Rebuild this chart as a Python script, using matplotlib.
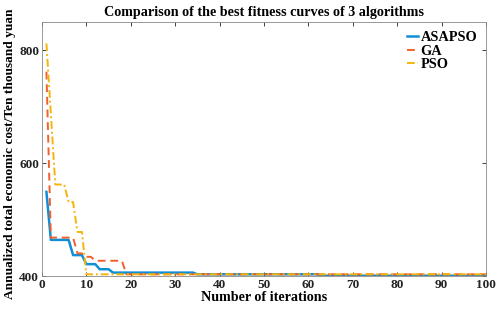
import numpy as np
import matplotlib
matplotlib.use('Agg')
import matplotlib.pyplot as plt

# plateau values, with how many iterations each lasts
asapso_vals = [549, 464, 437, 421, 412, 406, 403, 400.5]
asapso_runs = [1, 5, 3, 3, 3, 19, 28, 38]

ga_vals = [762, 468, 440, 434, 427, 403]
ga_runs = [1, 6, 2, 2, 7, 82]

pso_vals = [812, 687, 562, 531, 478, 403]
pso_runs = [1, 1, 3, 2, 2, 91]

iters = np.arange(1, 101)
asapso = np.repeat(asapso_vals, asapso_runs)
ga = np.repeat(ga_vals, ga_runs)
pso = np.repeat(pso_vals, pso_runs)

plt.rcParams['font.family'] = ['Liberation Serif', 'DejaVu Serif']
plt.rcParams['font.weight'] = 'bold'

fig = plt.figure(figsize=(4.98, 3.14), dpi=100)
ax = fig.add_axes([0.0843, 0.121, 0.8917, 0.809])

ax.plot(iters, asapso, color='#118fd6', lw=1.8, label='ASAPSO')
ax.plot(iters, ga, color='#f0602a', lw=1.4, ls=(0, (4, 2.5)), label='GA')
ax.plot(iters, pso, color='#f3b40c', lw=1.4, ls=(0, (4, 1.5, 1, 1.5)), label='PSO')

ax.set_xlim(0, 100)
ax.set_ylim(400, 850)
ax.set_xticks(np.arange(0, 101, 10))
ax.set_yticks([400, 600, 800])
ax.tick_params(direction='in', top=True, right=True, length=3, width=0.6,
               labelsize=9.5, colors='#222222', pad=2)
for lab in ax.get_xticklabels() + ax.get_yticklabels():
    lab.set_fontweight('bold')
for s in ax.spines.values():
    s.set_linewidth(0.6)
    s.set_color('#888888')

ax.set_title('Comparison of the best fitness curves of 3 algorithms',
             fontsize=10.2, fontweight='bold', pad=4)
ax.set_xlabel('Number of iterations', fontsize=10.2, fontweight='bold', labelpad=0)
ax.set_ylabel('Annualized total economic cost/Ten thousand yuan',
              fontsize=9.6, fontweight='bold')
ax.yaxis.set_label_coords(-0.058, 0.48)

leg = ax.legend(loc='upper right', frameon=False, fontsize=10.4, handlelength=0.8,
                handletextpad=0.15, labelspacing=0.05, borderaxespad=0.2)

fig.savefig('out.png', dpi=100)
